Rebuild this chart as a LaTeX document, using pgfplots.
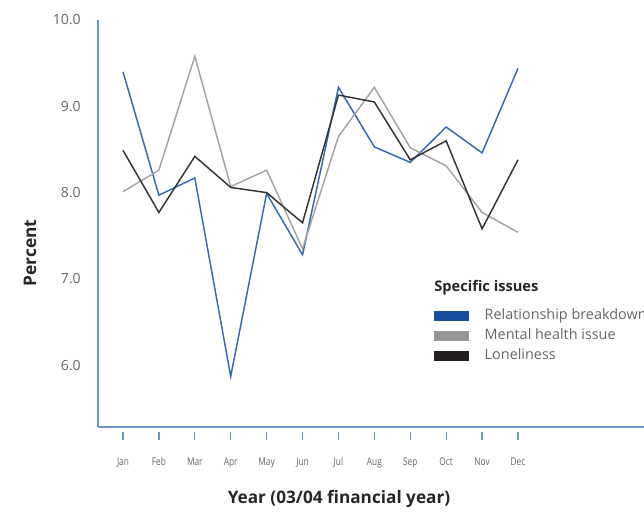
\documentclass[border=0pt]{standalone}
\usepackage{fontspec}
\setmainfont{Open Sans}
\newfontfamily\condfont[FakeStretch=0.78]{Open Sans}
\usepackage{pgfplots}
\pgfplotsset{compat=1.18}

\definecolor{axisblue}{HTML}{6A93CF}
\definecolor{relblue}{HTML}{3467B5}
\definecolor{relbluekey}{HTML}{174C9E}
\definecolor{mentalgrey}{HTML}{A3A3A3}
\definecolor{mentalkey}{HTML}{959595}
\definecolor{lonelyblack}{HTML}{333333}
\definecolor{lonelykey}{HTML}{231F20}
\definecolor{labelgrey}{HTML}{666666}

% month index: 0 = Jan ... 11 = Dec
\pgfplotstableread{
m rel mental lonely
0 9.40 8.01 8.49
1 7.97 8.26 7.77
2 8.17 9.58 8.42
3 5.87 8.07 8.06
4 7.99 8.26 8.00
5 7.28 7.35 7.65
6 9.22 8.65 9.13
7 8.53 9.22 9.05
8 8.35 8.52 8.38
9 8.76 8.31 8.60
10 8.46 7.77 7.58
11 9.44 7.54 8.38
}\monthly

\begin{document}
\begin{tikzpicture}
\begin{axis}[
  at={(73.5pt,-320.25pt)}, anchor=south west,
  scale only axis, width=414pt, height=305.25pt,
  xmin=-0.696, xmax=14.676, ymin=5.284, ymax=10.0,
  axis x line*=bottom, axis y line*=left,
  axis line style={axisblue, line width=1.1pt},
  xtick={0,...,11},
  xticklabels={Jan,Feb,Mar,Apr,May,Jun,Jul,Aug,Sep,Oct,Nov,Dec},
  xtick style={axisblue, line width=1pt, yshift=-3.75pt},
  tick align=outside, major tick length=6pt,
  xticklabel style={font=\condfont\fontsize{8}{9}\selectfont, text=labelgrey, yshift=-13.5pt},
  ytick={6,7,8,9,10},
  yticklabel style={font=\fontsize{10.5}{12}\selectfont, text=labelgrey, inner sep=0pt, xshift=-6.75pt},
  ytick style={draw=none},
  /pgf/number format/.cd, fixed, fixed zerofill, precision=1, assume math mode=true,
  /pgfplots/.cd,
  legend style={at={(0.6087,0.29)}, anchor=north west, draw=none, fill=none,
    font=\fontsize{10.8}{12}\selectfont, text=labelgrey,
    row sep=5pt, inner sep=0pt,
    nodes={inner sep=0pt, text height=8pt, text depth=2pt}},
  legend cell align=left,
  /tikz/every odd column/.append style={column sep=12pt},
  clip=false,
]
\addplot[relblue, line width=1.1pt,
  legend image code/.code={\fill[relbluekey] (0pt,-3pt) rectangle (24.75pt,3pt);}]
  table[x=m, y=rel] {\monthly};
\addlegendentry{Relationship breakdown}
\addplot[mentalgrey, line width=1.1pt,
  legend image code/.code={\fill[mentalkey] (0pt,-3pt) rectangle (24.75pt,3pt);}]
  table[x=m, y=mental] {\monthly};
\addlegendentry{Mental health issue}
\addplot[lonelyblack, line width=1.1pt,
  legend image code/.code={\fill[lonelykey] (0pt,-3pt) rectangle (24.75pt,3pt);}]
  table[x=m, y=lonely] {\monthly};
\addlegendentry{Loneliness}
\end{axis}
% legend heading and axis titles
\node[anchor=west, inner sep=0pt, font=\bfseries\fontsize{11}{13}\selectfont, text=black!85]
  at (325.5pt,-216pt) {Specific issues};
\node[inner sep=0pt, font=\bfseries\fontsize{12.9}{15}\selectfont, text=black!85]
  at (254.25pt,-374.25pt) {Year (03/04 financial year)};
\node[inner sep=0pt, rotate=90, font=\bfseries\fontsize{13}{15}\selectfont, text=black!85]
  at (22.5pt,-189.75pt) {Percent};
\pgfresetboundingbox
\useasboundingbox (0pt,0pt) rectangle (483pt,-384pt);
\end{tikzpicture}
\end{document}
